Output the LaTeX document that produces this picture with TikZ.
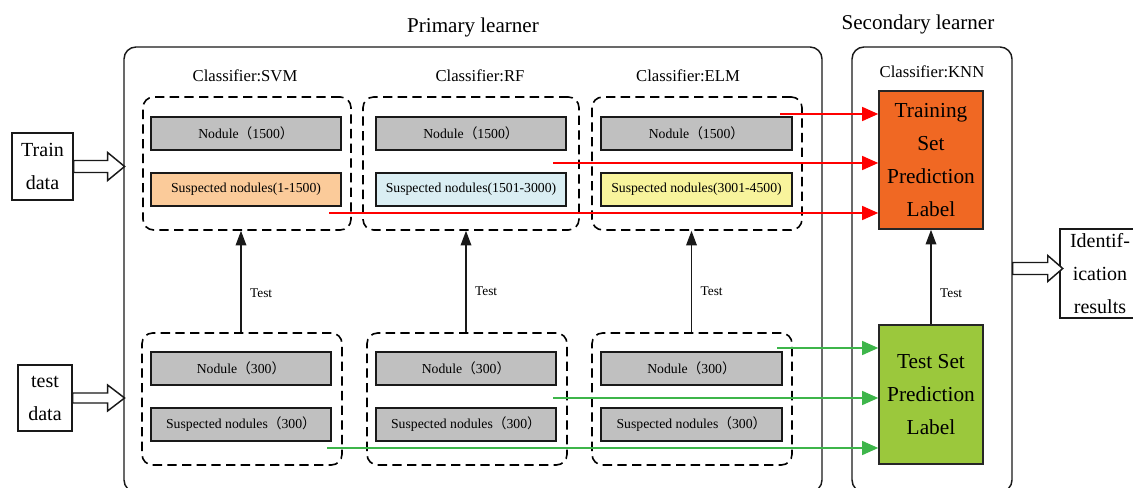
\documentclass[tikz,border=0pt]{standalone}
\usepackage{fontspec}
\setmainfont{Liberation Serif}
\newfontfamily\cjk{Noto Sans CJK SC}
\usetikzlibrary{arrows.meta,calc}
\newcommand\fwlp{{\cjk （}}
\newcommand\fwrp{{\cjk ）}}
\definecolor{peach}{HTML}{FBCB9A}
\definecolor{lblue}{HTML}{DAEEF3}
\definecolor{lyel}{HTML}{F8F49C}
\definecolor{gbox}{HTML}{C0C0C0}
\definecolor{orng}{HTML}{F06823}
\definecolor{lgrn}{HTML}{9BC83C}
\definecolor{arrg}{HTML}{3DB54A}
\definecolor{arrr}{HTML}{FF0000}
\tikzset{
  x=0.75pt, y=-0.75pt,
  outerbox/.style={draw=black!90, line width=1.1pt, rounded corners=9pt, inner sep=0pt},
  groupbox/.style={draw=black, line width=1.2pt, dash pattern=on 7pt off 4pt, rounded corners=8pt, inner sep=0pt},
  itembox/.style={draw=black!90, line width=1.2pt, inner sep=0pt, minimum height=24.75pt, font=\fontsize{10.3}{12}\selectfont},
  plainbox/.style={draw=black!90, line width=0.9pt, inner sep=0pt, align=center, font=\fontsize{15}{24.75}\selectfont},
  bigbox/.style={draw=black!85, line width=1.2pt, inner sep=0pt, align=center, minimum width=78pt, font=\fontsize{16}{24.75}\selectfont},
  hollow/.style={draw=black!90, line width=1.1pt, fill=white},
  testarrow/.style={draw=black!90, line width=1pt, -{Triangle[length=11pt,width=8pt]}},
  redarrow/.style={draw=arrr, line width=1pt, -{Triangle[length=12pt,width=10.5pt]}},
  grnarrow/.style={draw=arrg, line width=1pt, -{Triangle[length=12pt,width=10.5pt]}},
  ttl/.style={font=\fontsize{15.8}{18}\selectfont},
  ctl/.style={font=\fontsize{12.5}{14}\selectfont},
  lbl/.style={font=\fontsize{10}{12}\selectfont, anchor=west}
}
\begin{document}
\begin{tikzpicture}
\useasboundingbox (0,0) rectangle (1133,488);
% outer learner boxes
\node[outerbox, minimum width=523.5pt, minimum height=333.75pt] (prim) at (473,269.5) {};
\node[outerbox, minimum width=120pt, minimum height=333.75pt] (sec) at (932,269.5) {};
\node[ttl] (primt) at (473,27) {Primary learner};
\node[ttl] (sect) at (918,24) {Secondary learner};
% classifier titles
\node[ctl] (csvm) at (245,76) {Classifier:SVM};
\node[ctl] (crf) at (480,76) {Classifier:RF};
\node[ctl] (celm) at (688,76) {Classifier:ELM};
\node[ctl] (cknn) at (932,72) {Classifier:KNN};
% top groups
\node[groupbox, minimum width=156pt, minimum height=99.75pt] (tsvm) at (247,163.5) {};
\node[groupbox, minimum width=162pt, minimum height=99.75pt] (trf) at (471,163.5) {};
\node[groupbox, minimum width=157.5pt, minimum height=99.75pt] (telm) at (697,163.5) {};
\node[itembox, fill=gbox, minimum width=142.5pt] (tsvmn) at (246,133.5) {Nodule\fwlp 1500\fwrp};
\node[itembox, fill=peach, minimum width=142.5pt] (tsvms) at (246,189.5) {Suspected nodules(1-1500)};
\node[itembox, fill=gbox, minimum width=142.5pt] (trfn) at (471,133.5) {Nodule\fwlp 1500\fwrp};
\node[itembox, fill=lblue, minimum width=142.5pt] (trfs) at (471,189.5) {Suspected nodules(1501-3000)};
\node[itembox, fill=gbox, minimum width=143.25pt] (telmn) at (696.5,133.5) {Nodule\fwlp 1500\fwrp};
\node[itembox, fill=lyel, minimum width=143.25pt] (telms) at (696.5,189.5) {Suspected nodules(3001-4500)};
% bottom groups
\node[groupbox, minimum width=150pt, minimum height=99pt] (bsvm) at (242,399) {};
\node[groupbox, minimum width=150pt, minimum height=99pt] (brf) at (467,399) {};
\node[groupbox, minimum width=150pt, minimum height=99pt] (belm) at (692,399) {};
\node[itembox, fill=gbox, minimum width=135pt] (bsvmn) at (241,368.5) {Nodule\fwlp 300\fwrp};
\node[itembox, fill=gbox, minimum width=135pt] (bsvms) at (241,424.5) {Suspected nodules\fwlp 300\fwrp};
\node[itembox, fill=gbox, minimum width=135pt] (brfn) at (466,368.5) {Nodule\fwlp 300\fwrp};
\node[itembox, fill=gbox, minimum width=135pt] (brfs) at (466,424.5) {Suspected nodules\fwlp 300\fwrp};
\node[itembox, fill=gbox, minimum width=135.75pt] (belmn) at (691.5,368.5) {Nodule\fwlp 300\fwrp};
\node[itembox, fill=gbox, minimum width=135.75pt] (belms) at (691.5,424.5) {Suspected nodules\fwlp 300\fwrp};
% test arrows in primary
\draw[testarrow] (bsvmn.north |- bsvm.north) -- (bsvmn.north |- tsvm.south) node[lbl, pos=0.38, right=3pt] {Test};
\draw[testarrow] (brfn.north |- brf.north) -- (brfn.north |- trf.south) node[lbl, pos=0.4, right=3pt] {Test};
\draw[testarrow] (belmn.north |- belm.north) -- (belmn.north |- telm.south) node[lbl, pos=0.4, right=3pt] {Test};
% secondary learner boxes
\node[bigbox, fill=orng, minimum height=103.5pt] (train) at (931,160) {Training\\Set\\Prediction\\Label};
\node[bigbox, fill=lgrn, minimum height=104.25pt] (testset) at (931,394.5) {Test Set\\Prediction\\Label};
\draw[testarrow] (testset.north) -- (train.south) node[lbl, pos=0.33, right=3pt] {Test};
% input / output boxes
\node[plainbox, minimum width=45.75pt, minimum height=50.25pt] (traind) at (42.5,166.5) {Train\\data};
\node[plainbox, minimum width=40.5pt, minimum height=49.5pt] (testd) at (45,398) {test\\data};
\node[plainbox, minimum width=60pt, minimum height=66.75pt] (ident) at (1100,273.5) {Identif-\\ication\\results};
% hollow arrows
\draw[hollow] ($(traind.east)+(0,-6)$) -- ++(34,0) -- ++(0,-8) -- ++(17,14) -- ++(-17,14) -- ++(0,-8) -- ++(-34,0) -- cycle;
\draw[hollow] ($(testd.east)+(0,-5)$) -- ++(35,0) -- ++(0,-8) -- ++(17,13) -- ++(-17,13) -- ++(0,-8) -- ++(-35,0) -- cycle;
\draw[hollow] ($(sec.east |- ident.west)+(0,-11)$) -- ++(35,0) -- ++(0,-7) -- ++(15,13) -- ++(-15,13) -- ++(0,-7) -- ++(-35,0) -- cycle;
% red arrows
\coordinate (r1) at (780,114);
\coordinate (r2) at (553,163);
\coordinate (r3) at (329,213);
\draw[redarrow] (r1) -- (r1 -| train.west);
\draw[redarrow] (r2) -- (r2 -| train.west);
\draw[redarrow] (r3) -- (r3 -| train.west);
% green arrows
\coordinate (g1) at (777,348);
\coordinate (g2) at (553,398);
\coordinate (g3) at (327,448);
\draw[grnarrow] (g1) -- (g1 -| testset.west);
\draw[grnarrow] (g2) -- (g2 -| testset.west);
\draw[grnarrow] (g3) -- (g3 -| testset.west);
\end{tikzpicture}
\end{document}
